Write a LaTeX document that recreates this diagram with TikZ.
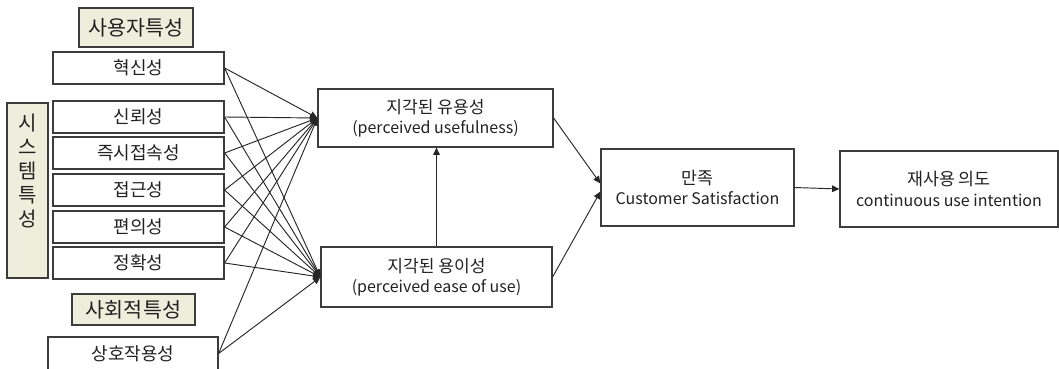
\documentclass[tikz,border=0pt]{standalone}
\usepackage{fontspec}
\setmainfont{Noto Sans CJK KR}
\usetikzlibrary{arrows.meta,calc}
\definecolor{boxgray}{HTML}{3C3C3C}
\definecolor{linegray}{HTML}{262626}
\definecolor{tagfill}{HTML}{EEEEDD}
\definecolor{txt}{HTML}{222222}
\tikzset{
  lbox/.style={draw=boxgray, line width=0.9pt, fill=white, inner sep=0pt, align=center, text=txt, font=\fontsize{13.5}{16}\selectfont},
  mbox/.style={draw=boxgray, line width=0.9pt, fill=white, inner sep=0pt, align=center, text=txt, font=\fontsize{12}{15}\selectfont},
  rbox/.style={draw=boxgray, line width=0.9pt, fill=white, inner sep=0pt, align=center, text=txt, font=\fontsize{12}{15.5}\selectfont},
  tag/.style={draw=boxgray, line width=0.9pt, fill=tagfill, inner sep=0pt, align=center, text=txt, font=\fontsize{15.5}{18}\selectfont},
  link/.style={draw=linegray, line width=0.7pt, -{Triangle[length=5.5pt,width=5pt]}},
}
\begin{document}
\begin{tikzpicture}[x=0.75pt,y=-0.75pt]
\useasboundingbox (0,0) rectangle (1059,368);
% category tags
\node[tag, minimum width=85.5pt, minimum height=29.25pt] (tuser) at (136,27.5) {사용자특성};
\node[tag, minimum width=30.75pt, minimum height=131.25pt] (tsys) at (27.5,190.5) {};
\node[font=\fontsize{15}{18}\selectfont, text=txt, align=center] (tsystxt) at (27.5,171) {시\\스\\템\\특\\성};
\node[tag, minimum width=92.25pt, minimum height=23.25pt] (tsoc) at (133.5,309.5) {사회적특성};
% factor boxes
\node[lbox, minimum width=128.25pt, minimum height=24pt] (h1) at (138.5,68) {혁신성};
\node[lbox, minimum width=128.25pt, minimum height=24pt] (h2) at (138.5,117) {신뢰성};
\node[lbox, minimum width=128.25pt, minimum height=24pt] (h3) at (138.5,153) {즉시접속성};
\node[lbox, minimum width=128.25pt, minimum height=24pt] (h4) at (138.5,190) {접근성};
\node[lbox, minimum width=128.25pt, minimum height=24pt] (h5) at (138.5,227) {편의성};
\node[lbox, minimum width=128.25pt, minimum height=24pt] (h6) at (138.5,263) {정확성};
\node[lbox, minimum width=127.5pt, minimum height=24.75pt] (h7) at (133,353.5) {상호작용성};
% middle boxes
\node[mbox, minimum width=176.25pt, minimum height=43.5pt] (uf) at (435.5,118) {{\fontsize{12.8}{15}\selectfont 지각된 유용성}\\(perceived usefulness)};
\node[mbox, minimum width=173.25pt, minimum height=45pt] (ea) at (436.5,277) {{\fontsize{12.8}{15}\selectfont 지각된 용이성}\\(perceived ease of use)};
% right boxes
\node[rbox, minimum width=144.75pt, minimum height=57.75pt] (sat) at (697.5,187.5) {{\fontsize{13}{15.5}\selectfont 만족}\\Customer Satisfaction};
\node[rbox, minimum width=163.5pt, minimum height=57pt] (re) at (949,189) {{\fontsize{13}{15.5}\selectfont 재사용 의도}\\continuous use intention};
% links
\foreach \n in {h1,h2,h3,h4,h5,h6,h7} {
  \draw[link] (\n.east) -- (uf.west);
  \draw[link] (\n.east) -- (ea.west);
}
\draw[link] (ea.north) -- (ea.north |- uf.south);
\draw[link] (uf.east) -- ($(sat.west)+(0,-4)$);
\draw[link] (ea.east) -- ($(sat.west)+(0,4)$);
\draw[link] (sat.east) -- (re.west);
\end{tikzpicture}
\end{document}
